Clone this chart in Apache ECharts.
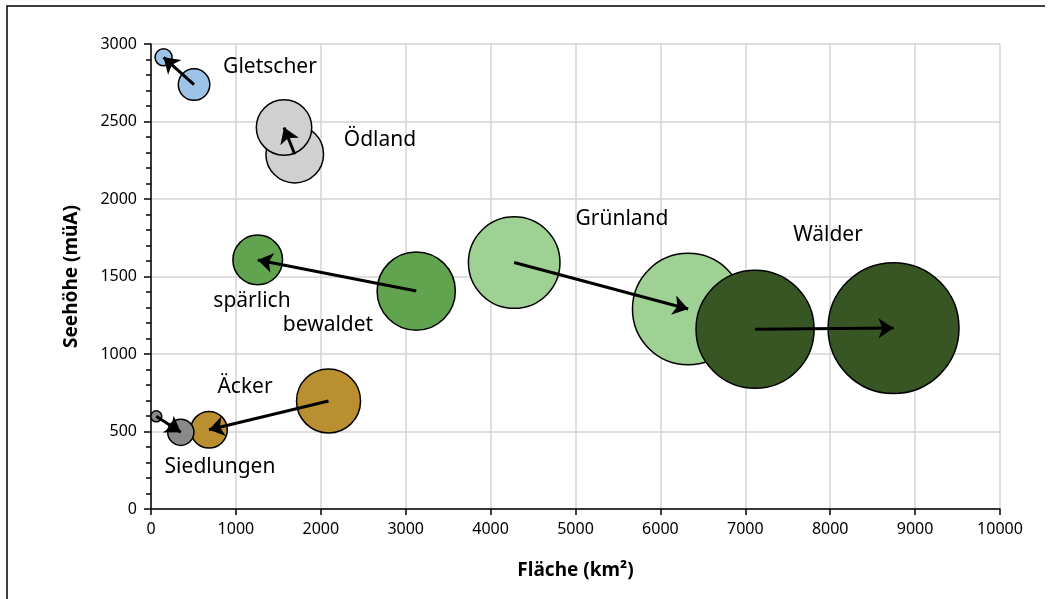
<!DOCTYPE html>
<html>
<head>
<meta charset="utf-8">
<script src="https://cdn.jsdelivr.net/npm/echarts@6/dist/echarts.min.js"></script>
<style>
  html, body { margin: 0; padding: 0; background: #fff; }
  #chart { width: 1048px; height: 599px; }
</style>
</head>
<body>
<div id="chart"></div>
<script>
// Flächennutzung: alter Stand -> neuer Stand (Pfeil)
let kategorien = ['Gletscher', 'Ödland', 'spärlich bewaldet', 'Grünland', 'Wälder', 'Äcker', 'Siedlungen'];
let flaecheAlt = [507, 1693, 3124, 4278, 7115, 2091, 62];
let hoeheAlt   = [2738, 2289, 1406, 1590, 1160, 697, 598];
let flaecheNeu = [148, 1567, 1257, 6327, 8746, 683, 351];
let hoeheNeu   = [2914, 2461, 1607, 1290, 1167, 511, 495];

let xTicks = [0, 1000, 2000, 3000, 4000, 5000, 6000, 7000, 8000, 9000, 10000];
let yTicks = [0, 500, 1000, 1500, 2000, 2500, 3000];

let farben = ['#9DC3E6', '#D0D0D0', '#62A34F', '#9ED193', '#375623', '#BA8F30', '#898989'];

let fontFamily = '"Noto Sans", sans-serif';

let myChart = echarts.init(document.getElementById('chart'));

let series = kategorien.map(function (name, i) {
  return {
    name: name,
    type: 'scatter',
    z: 2,
    symbolSize: function (val) {
      return 1.40 * Math.sqrt(val[0]);
    },
    itemStyle: {
      color: farben[i],
      borderColor: '#000',
      borderWidth: 1.5,
      opacity: 1
    },
    data: [
      [flaecheAlt[i], hoeheAlt[i]],
      [flaecheNeu[i], hoeheNeu[i]]
    ]
  };
});

series.push({
  name: 'pfeile',
  type: 'lines',
  coordinateSystem: 'cartesian2d',
  z: 5,
  symbol: ['none', 'arrow'],
  symbolSize: 15,
  lineStyle: { color: '#000', width: 3, opacity: 1, curveness: 0 },
  silent: true,
  data: kategorien.map(function (name, i) {
    return {
      coords: [[flaecheAlt[i], hoeheAlt[i]], [flaecheNeu[i], hoeheNeu[i]]]
    };
  })
});

// Beschriftungen (Pixelpositionen)
let beschriftung = [
  { text: 'Gletscher', x: 270, y: 67 },
  { text: 'Ödland', x: 380, y: 140 },
  { text: 'Grünland', x: 622, y: 219 },
  { text: 'Wälder', x: 828, y: 235 },
  { text: 'spärlich', x: 252, y: 301 },
  { text: 'bewaldet', x: 328, y: 325 },
  { text: 'Äcker', x: 245, y: 387 },
  { text: 'Siedlungen', x: 220, y: 467 }
];

let graphic = beschriftung.map(function (b) {
  return {
    type: 'text',
    x: b.x,
    y: b.y,
    z: 10,
    style: {
      text: b.text,
      font: '21px ' + fontFamily,
      fill: '#000',
      align: 'center',
      verticalAlign: 'middle'
    }
  };
});

// Rahmen
graphic.push({
  type: 'polyline',
  z: 10,
  shape: { points: [[7, 599], [7, 6], [1045, 6]] },
  style: { stroke: '#000', lineWidth: 1.5, fill: null }
});

let tickLabel = function (v) { return String(v); };

myChart.setOption({
  animation: false,
  backgroundColor: '#fff',
  textStyle: { fontFamily: fontFamily },
  grid: {
    left: 151,
    right: 48,
    top: 44,
    bottom: 90,
    containLabel: false
  },
  xAxis: {
    type: 'value',
    min: xTicks[0],
    max: xTicks[xTicks.length - 1],
    interval: 1000,
    name: 'Fläche (km²)',
    nameLocation: 'middle',
    nameGap: 52,
    nameTextStyle: { fontSize: 19, fontWeight: 'bold', color: '#000', fontFamily: fontFamily },
    axisLine: { show: true, onZero: false, lineStyle: { color: '#000', width: 1.5 } },
    axisTick: { show: true, inside: false, length: 6, lineStyle: { color: '#000', width: 1.5 } },
    axisLabel: { color: '#000', fontSize: 16, margin: 12, fontFamily: fontFamily, formatter: tickLabel },
    splitLine: { show: true, lineStyle: { color: '#D4D4D4', width: 1.5 } }
  },
  yAxis: {
    type: 'value',
    min: yTicks[0],
    max: yTicks[yTicks.length - 1],
    interval: 500,
    name: 'Seehöhe (müA)',
    nameLocation: 'middle',
    nameRotate: 90,
    nameGap: 70,
    nameTextStyle: { fontSize: 19, fontWeight: 'bold', color: '#000', fontFamily: fontFamily },
    axisLine: { show: true, onZero: false, lineStyle: { color: '#000', width: 1.5 } },
    axisTick: { show: true, inside: false, length: 7, lineStyle: { color: '#000', width: 1.5 } },
    minorTick: { show: true, splitNumber: 5, length: 5, lineStyle: { color: '#000', width: 1.5 } },
    axisLabel: { color: '#000', fontSize: 16, margin: 14, fontFamily: fontFamily, formatter: tickLabel },
    splitLine: { show: true, lineStyle: { color: '#D4D4D4', width: 1.5 } }
  },
  graphic: graphic,
  series: series
});
</script>
</body>
</html>
